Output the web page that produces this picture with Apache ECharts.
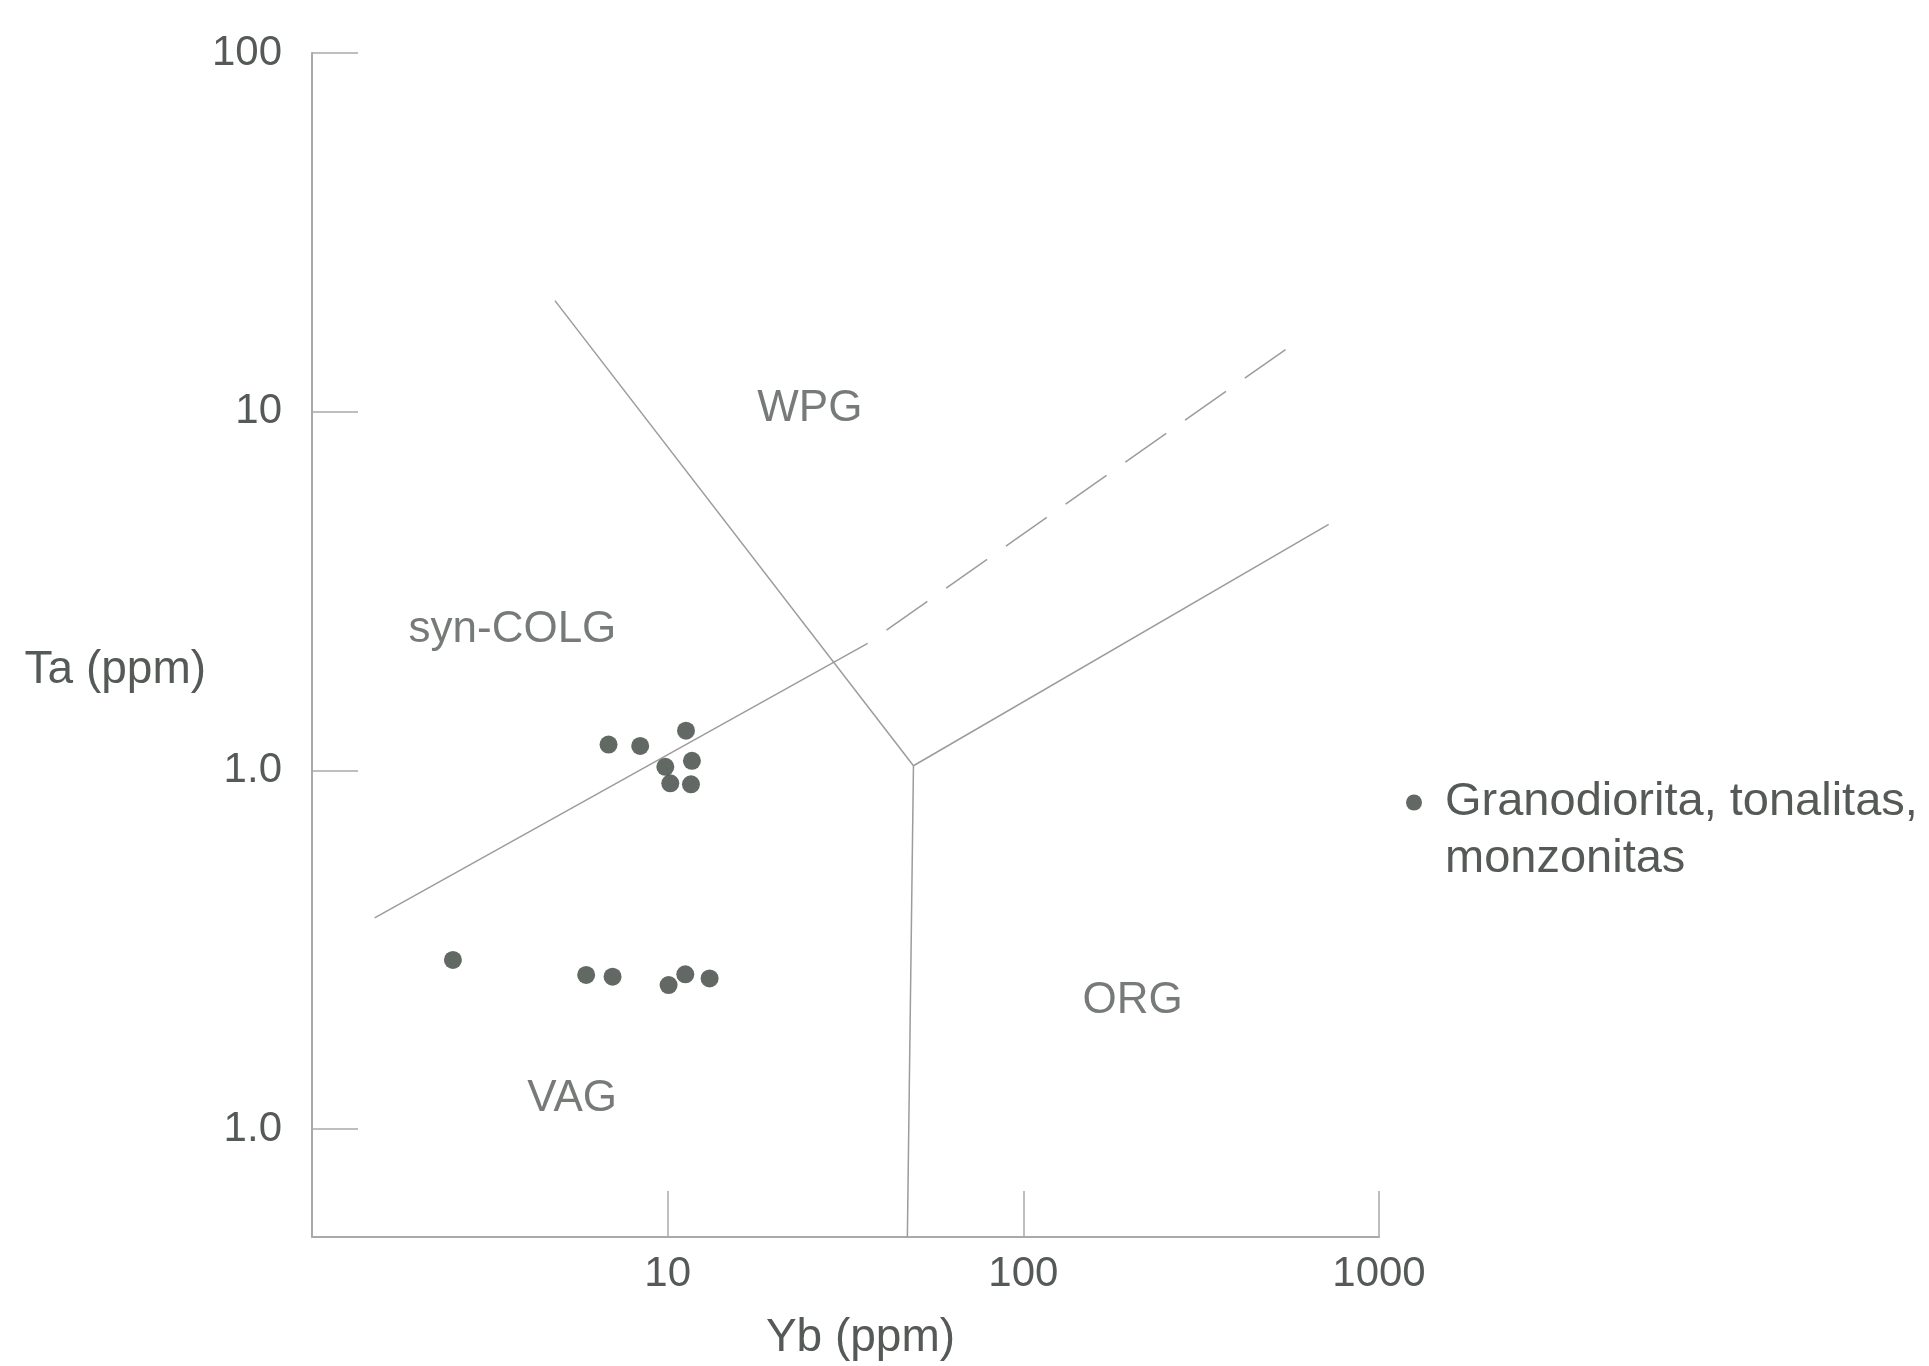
<!DOCTYPE html>
<html>
<head>
<meta charset="utf-8">
<script src="https://cdn.jsdelivr.net/npm/echarts@6/dist/echarts.min.js"></script>
<style>
  html, body { margin: 0; padding: 0; background: #ffffff; }
  #chart { width: 1929px; height: 1366px; }
</style>
</head>
<body>
<div id="chart"></div>
<script>
// ---- data ----
const xTickValues = [10, 100, 1000];
const xTickLabels = ['10', '100', '1000'];
const yTickValues = [0.1, 1, 10, 100];
const yTickLabels = ['1.0', '1.0', '10', '100'];

const sampleYb = [6.82, 8.37, 11.26, 11.7, 9.85, 10.17, 11.63, 2.49, 5.90, 7.00, 10.06, 11.21, 13.12];
const sampleTa = [1.18, 1.17, 1.29, 1.063, 1.023, 0.92, 0.914, 0.296, 0.269, 0.266, 0.252, 0.270, 0.263];
const legendLines = ['Granodiorita, tonalitas,', 'monzonitas'];

// field boundaries
const colgVagYb = [1.5, 36.5];
const colgVagTa = [0.388, 2.26];
const dashedYb = [36.5, 546];
const dashedTa = [2.26, 14.9];
const wpgYb = [4.82, 49.1];
const wpgTa = [20.4, 1.03];
const orgVertYb = [49.1, 47.2];
const orgVertTa = [1.03, 0.05];
const orgUpperYb = [49.1, 722];
const orgUpperTa = [1.03, 4.85];

// field names
const regionNames = ['syn-COLG', 'WPG', 'VAG', 'ORG'];
const regionYb = [3.66, 25.1, 5.39, 203];
const regionTa = [2.47, 10.2, 0.121, 0.228];

// ---- build ----
const zip = (a, b) => a.map((v, i) => [v, b[i]]);
function tickFormatter(vals, labels) {
  return function (v) {
    for (let i = 0; i < vals.length; i++) {
      if (Math.abs(Math.log10(v) - Math.log10(vals[i])) < 1e-6) return labels[i];
    }
    return '';
  };
}

const FONT = 'Liberation Sans';
const TEXT = '#555a56';
const AXIS = '#a9a9a9';
const BOUND = '#9c9c9c';
const seriesName = legendLines.join(' ');

const boundaryLine = (xs, ys, dashed) => ({
  type: 'line',
  data: zip(xs, ys),
  showSymbol: false,
  symbol: 'none',
  silent: true,
  lineStyle: dashed
    ? { color: BOUND, width: 1.5, type: [50, 23], dashOffset: 50 }
    : { color: BOUND, width: 1.5 },
  z: 1
});

const chart = echarts.init(document.getElementById('chart'), null, { renderer: 'canvas' });
chart.setOption({
  animation: false,
  backgroundColor: '#ffffff',
  grid: { left: 312, right: 550, top: 53, bottom: 125, containLabel: false },
  xAxis: {
    type: 'log',
    logBase: 10,
    min: 1,
    max: 1000,
    name: 'Yb (ppm)',
    nameLocation: 'middle',
    nameGap: 78,
    nameTextStyle: { fontFamily: FONT, fontSize: 46, color: TEXT, padding: [0, 0, 0, 30] },
    axisLine: { show: true, lineStyle: { color: AXIS, width: 2 } },
    axisTick: { show: true, inside: true, length: 46, lineStyle: { color: AXIS, width: 1.5 } },
    minorTick: { show: false },
    splitLine: { show: false },
    axisLabel: {
      fontFamily: FONT, fontSize: 42, color: TEXT, margin: 16,
      formatter: tickFormatter(xTickValues, xTickLabels)
    }
  },
  yAxis: {
    type: 'log',
    logBase: 10,
    min: 0.05,
    max: 100,
    name: 'Ta (ppm)',
    nameLocation: 'middle',
    nameRotate: 0,
    nameGap: 102,
    nameTextStyle: { fontFamily: FONT, fontSize: 46, color: TEXT, verticalAlign: 'top', lineHeight: 50 },
    axisLine: { show: true, lineStyle: { color: AXIS, width: 2 } },
    axisTick: { show: true, inside: true, length: 46, lineStyle: { color: AXIS, width: 1.5 } },
    minorTick: { show: false },
    splitLine: { show: false },
    axisLabel: {
      fontFamily: FONT, fontSize: 42, color: TEXT, margin: 30,
      formatter: tickFormatter(yTickValues, yTickLabels)
    }
  },
  legend: {
    data: [seriesName],
    orient: 'vertical',
    left: 1406,
    top: 717,
    padding: 0,
    icon: 'circle',
    itemWidth: 52,
    itemHeight: 16,
    formatter: () => '\n' + legendLines.join('\n'),
    textStyle: { fontFamily: FONT, fontSize: 47, color: TEXT, lineHeight: 57 }
  },
  series: [
    boundaryLine(colgVagYb, colgVagTa, false),
    boundaryLine(dashedYb, dashedTa, true),
    boundaryLine(wpgYb, wpgTa, false),
    boundaryLine(orgVertYb, orgVertTa, false),
    boundaryLine(orgUpperYb, orgUpperTa, false),
    {
      type: 'scatter',
      silent: true,
      symbolSize: 1,
      itemStyle: { color: 'rgba(0,0,0,0)' },
      data: regionNames.map((n, i) => ({ name: n, value: [regionYb[i], regionTa[i]] })),
      label: {
        show: true, position: 'inside', formatter: p => p.name,
        fontFamily: FONT, fontSize: 44, color: TEXT
      },
      z: 2
    },
    {
      name: seriesName,
      type: 'scatter',
      symbol: 'circle',
      symbolSize: 18,
      itemStyle: { color: '#3b433d' },
      data: zip(sampleYb, sampleTa),
      z: 3
    }
  ]
});
</script>
</body>
</html>
